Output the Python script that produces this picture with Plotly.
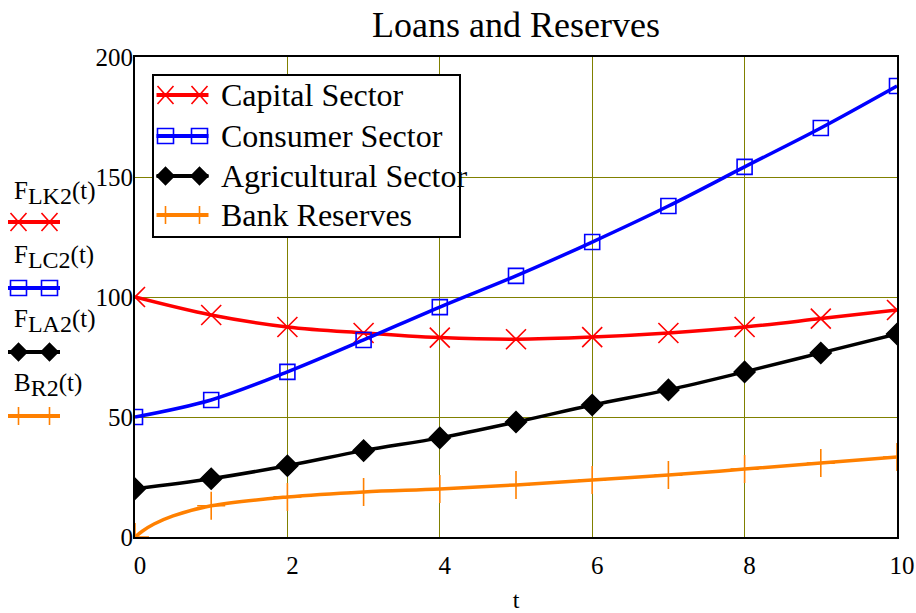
import plotly.graph_objects as go

# ---- data -------------------------------------------------------------
t = [0, 1, 2, 3, 4, 5, 6, 7, 8, 9, 10]
capital = [100, 92.5, 87.5, 85.0, 83.1, 82.4, 83.3, 85.0, 87.5, 91.0, 94.6]
consumer = [50, 57.1, 68.8, 82.1, 95.8, 108.8, 122.9, 137.9, 154.2, 170.4, 187.9]
agricultural = [20.1, 24.3, 29.7, 36.0, 41.3, 47.9, 55.0, 61.3, 68.8, 76.7, 84.6]
reserves_t = [0, 0.1, 0.25, 0.5, 1, 2, 3, 4, 5, 6, 7, 8, 9, 10]
reserves = [0, 2.5, 5.4, 8.8, 13.0, 16.7, 18.8, 20.0, 21.7, 23.8, 25.8, 28.3, 30.8, 33.3]

names = ["Capital Sector", "Consumer Sector", "Agricultural Sector", "Bank Reserves"]
fn_names = [("F", "LK2"), ("F", "LC2"), ("F", "LA2"), ("B", "R2")]
colors = ["#ff0000", "#0000ff", "#000000", "#ff8000"]
symbols = ["x-thin-open", "square-open", "diamond", "cross-thin-open"]
sizes = [20, 15, 16, 20]

title_text = "Loans and Reserves"
x_title = "t"

FONT = "Liberation Serif, Times New Roman, serif"

# ---- geometry of the plotting area (pixels) ----------------------------
W, H = 916, 613
L, R, T, B = 135, 19, 57, 76
PW, PH = W - L - R, H - T - B


def xp(px):
    return (px - L) / PW


def yp(py):
    return (H - B - py) / PH


fig = go.Figure()

series = [(t, capital), (t, consumer), (t, agricultural), (reserves_t, reserves)]
for i, (xs, ys) in enumerate(series):
    msize = [sizes[i] if float(v).is_integer() else 0 for v in xs]
    fig.add_trace(go.Scatter(
        x=xs, y=ys, name=names[i], mode="lines+markers",
        line=dict(color=colors[i], width=3.5, shape="spline"),
        marker=dict(symbol=symbols[i], size=msize, color=colors[i], opacity=1,
                    line=dict(color=colors[i], width=1.6)),
        showlegend=False,
    ))

shapes = []
annotations = []


def key(cx, cy, i, half_len, off):
    """Line sample with two markers, centred at pixel (cx, cy)."""
    base = dict(type="path", xref="paper", yref="paper",
                xsizemode="pixel", ysizemode="pixel",
                xanchor=xp(cx), yanchor=yp(cy), layer="above")
    shapes.append(dict(base, path=f"M{-half_len},0L{half_len},0",
                       line=dict(color=colors[i], width=4)))
    p = ""
    for m in (-off, off):
        if i == 0:
            p += f"M{m-8},-9L{m+8},9M{m-8},9L{m+8},-9"
        elif i == 1:
            p += f"M{m-8},-7.5L{m+8},-7.5L{m+8},7.5L{m-8},7.5Z"
        elif i == 2:
            p += f"M{m-8.5},0L{m},8.5L{m+8.5},0L{m},-8.5Z"
        else:
            p += f"M{m},-9L{m},9"
    fill = colors[i] if i == 2 else "rgba(0,0,0,0)"
    shapes.append(dict(base, path=p, fillcolor=fill,
                       line=dict(color=colors[i], width=1.6)))


# legend box inside the plot
shapes.append(dict(type="rect", xref="paper", yref="paper",
                   x0=xp(153), x1=xp(460), y0=yp(237), y1=yp(75),
                   fillcolor="white", line=dict(color="black", width=2),
                   layer="above"))
legend_rows = [95, 136, 176, 215]
for i, ry in enumerate(legend_rows):
    key(182.5, ry, i, 26, 17)
    annotations.append(dict(
        xref="paper", yref="paper", x=xp(219), y=yp(ry),
        xanchor="left", yanchor="middle", showarrow=False,
        text=names[i], font=dict(family=FONT, size=32, color="black")))

# stacked trace names to the left of the y axis
label_rows = [193, 257, 321, 385]
key_rows = [222, 288, 352, 416]
for i in range(4):
    key(34, key_rows[i], i, 26, 15.5)
    head, sub = fn_names[i]
    annotations.append(dict(
        xref="paper", yref="paper", x=xp(12), y=yp(label_rows[i]),
        xanchor="left", yanchor="middle", showarrow=False,
        text=(f"{head}<sub><span style='font-size:24px'>{sub}</span></sub>"
              "(t)"),
        font=dict(family=FONT, size=25, color="black")))

axis_common = dict(
    showgrid=True, gridcolor="#808000", gridwidth=1,
    showline=True, linecolor="black", linewidth=2, mirror=True,
    ticks="", zeroline=False, automargin=False,
    tickfont=dict(family=FONT, size=25, color="black"),
)

fig.update_layout(
    template="none",
    width=W, height=H,
    margin=dict(l=L, r=R, t=T, b=B),
    paper_bgcolor="white", plot_bgcolor="white",
    title=dict(text=title_text, x=0.5, xref="paper", xanchor="center",
               y=1 - 24 / H, yanchor="middle", yref="container",
               font=dict(family=FONT, size=36, color="black")),
    xaxis=dict(axis_common, range=[0, 10], dtick=2, ticklabelshift=5,
               ticklabelstandoff=5,
               title=dict(text=x_title, standoff=18,
                          font=dict(family=FONT, size=24, color="black"))),
    yaxis=dict(axis_common, range=[0, 200], dtick=50, ticklabelstandoff=-5),
    shapes=shapes,
    annotations=annotations,
    showlegend=False,
)

fig.write_html("out.html")
